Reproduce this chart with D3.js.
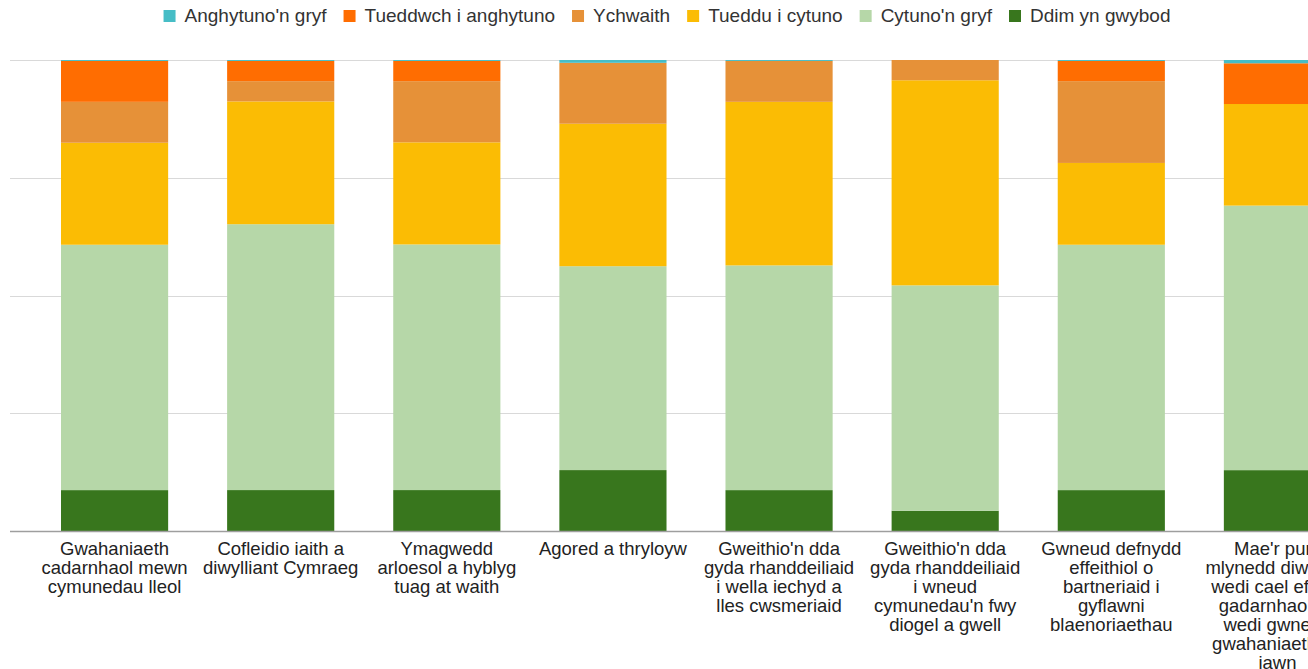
<!DOCTYPE html>
<html>
<head>
<meta charset="utf-8">
<script src="https://cdn.jsdelivr.net/npm/d3@7"></script>
<style>
  html, body { margin: 0; padding: 0; background: #fff; overflow: hidden; }
  svg { display: block; font-family: "Liberation Sans", Arial, sans-serif; }
</style>
</head>
<body>
<div id="chart"></div>
<script>
// categories (line breaks as drawn under each bar)
var categories = [
  "Gwahaniaeth\ncadarnhaol mewn\ncymunedau lleol",
  "Cofleidio iaith a\ndiwylliant Cymraeg",
  "Ymagwedd\narloesol a hyblyg\ntuag at waith",
  "Agored a thryloyw",
  "Gweithio'n dda\ngyda rhanddeiliaid\ni wella iechyd a\nlles cwsmeriaid",
  "Gweithio'n dda\ngyda rhanddeiliaid\ni wneud\ncymunedau'n fwy\ndiogel a gwell",
  "Gwneud defnydd\neffeithiol o\nbartneriaid i\ngyflawni\nblaenoriaethau",
  "Mae'r pum\nmlynedd diwethaf\nwedi cael effaith\ngadarnhaol ac\nwedi gwneud\ngwahaniaeth go\niawn"
];

var seriesNames = ["Anghytuno'n gryf", "Tueddwch i anghytuno", "Ychwaith", "Tueddu i cytuno", "Cytuno'n gryf", "Ddim yn gwybod"];
var seriesColors = ["#46bdc6", "#ff6d01", "#e69138", "#fbbc04", "#b6d7a8", "#38761d"];

// percentages per category
var anghytunoGryf = [0.2, 0.2, 0.2, 0.6, 0.2, 0.0, 0.2, 0.7];
var tueddwchAnghytuno = [8.7, 4.3, 4.3, 0.0, 0.0, 0.0, 4.3, 8.7];
var ychwaith = [8.7, 4.3, 13.0, 13.0, 8.7, 4.3, 17.4, 0.0];
var tueddduCytuno = [21.7, 26.1, 21.7, 30.4, 34.8, 43.5, 17.4, 21.7];
var cytunoGryf = [52.2, 56.5, 52.2, 43.5, 47.8, 47.8, 52.2, 56.5];
var ddimGwybod = [8.7, 8.7, 8.7, 13.0, 8.7, 4.3, 8.7, 13.0];

var seriesValues = [anghytunoGryf, tueddwchAnghytuno, ychwaith, tueddduCytuno, cytunoGryf, ddimGwybod];

var gridTicks = [0, 0.25, 0.5, 0.75, 1];

var width = 1308, height = 669;

var svg = d3.select('#chart').append('svg')
    .attr('width', width)
    .attr('height', height);

// table for the stack
var table = categories.map(function (c, i) {
  var row = { cat: c };
  seriesNames.forEach(function (s, j) { row[s] = seriesValues[j][i]; });
  return row;
});

// draw from bottom up: Ddim yn gwybod first
var stackKeys = seriesNames.slice().reverse();
var stacked = d3.stack().keys(stackKeys).offset(d3.stackOffsetExpand)(table);

var x = d3.scaleBand()
    .domain(categories)
    .range([10, 1382])
    .paddingInner(0.355)
    .paddingOuter(0.307);

var y = d3.scaleLinear().domain([0, 1]).range([531, 60]);

// gridlines
svg.append('g')
  .selectAll('line')
  .data(gridTicks)
  .join('line')
    .attr('x1', 10)
    .attr('x2', width)
    .attr('y1', function (d) { return Math.round(y(d)) + 0.5; })
    .attr('y2', function (d) { return Math.round(y(d)) + 0.5; })
    .attr('stroke', '#d9d9d9')
    .attr('stroke-width', 1);

var color = d3.scaleOrdinal().domain(seriesNames).range(seriesColors);

// bars
svg.append('g')
  .selectAll('g')
  .data(stacked)
  .join('g')
    .attr('fill', function (d) { return color(d.key); })
  .selectAll('rect')
  .data(function (d) { return d; })
  .join('rect')
    .attr('x', function (d) { return x(d.data.cat); })
    .attr('width', x.bandwidth())
    .attr('y', function (d) { return y(d[1]); })
    .attr('height', function (d) { return y(d[0]) - y(d[1]); });

// baseline over bars
svg.append('line')
  .attr('x1', 10).attr('x2', width)
  .attr('y1', 531.5).attr('y2', 531.5)
  .attr('stroke', '#9e9e9e')
  .attr('stroke-width', 1.5);

// category labels
var labels = svg.append('g')
  .selectAll('text')
  .data(categories)
  .join('text')
    .attr('text-anchor', 'middle')
    .attr('font-size', 18.5)
    .attr('fill', '#222')
    .attr('x', function (d) { return x(d) + x.bandwidth() / 2; })
    .attr('y', 555);

labels.selectAll('tspan')
  .data(function (d) { return d.split('\n'); })
  .join('tspan')
    .attr('x', function () { return d3.select(this.parentNode).attr('x'); })
    .attr('dy', function (d, i) { return i === 0 ? 0 : 19; })
    .text(function (d) { return d; });

// legend
var legend = svg.append('g');
var items = legend.selectAll('g')
  .data(seriesNames)
  .join('g');

items.append('rect')
  .attr('width', 12)
  .attr('height', 12)
  .attr('y', 10)
  .attr('fill', function (d) { return color(d); });

items.append('text')
  .attr('x', 21)
  .attr('y', 22)
  .attr('font-size', 19)
  .attr('fill', '#333')
  .text(function (d) { return d; });

var pos = 0;
items.each(function () {
  var w = this.querySelector('text').getComputedTextLength();
  d3.select(this).attr('transform', 'translate(' + pos + ',0)');
  pos += 21 + w + 17;
});
var total = pos - 17;
legend.attr('transform', 'translate(' + (667 - total / 2) + ',0)');
</script>
</body>
</html>
